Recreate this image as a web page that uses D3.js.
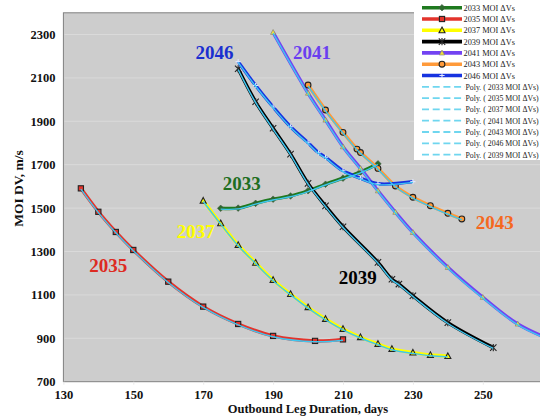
<!DOCTYPE html>
<html><head><meta charset="utf-8">
<script src="https://cdn.jsdelivr.net/npm/d3@7"></script>
<style>html,body{margin:0;padding:0;background:#fff;overflow:hidden}</style>
</head><body><svg id="c" width="540" height="416"></svg>
<script>
// ---- data ----
const days2033 = [175,180,185,190,195,200,205,210,215,220];
const dv2033   = [1499,1500,1522,1541,1556,1580,1610,1638,1666,1704];
const days2035 = [135,140,145,150,160,170,180,190,202,210];
const dv2035   = [1591,1483,1390,1307,1161,1046,966,911,888,895];
const days2037 = [170,175,180,185,190,195,200,205,210,215,220,224,230,235,240];
const dv2037   = [1534,1430,1330,1248,1169,1104,1043,989,943,905,874,851,834,823,818];
const days2039 = [180,185,190,195,200,205,210,220,224,226,230,240,253];
const dv2039   = [2142,1990,1868,1749,1614,1510,1414,1250,1172,1150,1096,972,857];
const days2041 = [190,200,205,210,215,220,225,230,240,250,260,270];
const dv2041   = [2310,2030,1906,1783,1683,1580,1481,1388,1227,1089,966,890];
const days2043 = [200,205,210,214,215,220,225,230,235,240,244];
const dv2043   = [2067,1952,1849,1772,1756,1683,1602,1550,1511,1476,1450];
const days2046 = [180,185,190,195,200,203,205,210,215,220,230];
const dv2046   = [2175,2065,1966,1875,1801,1755,1734,1672,1638,1612,1622];

const years = ["2033","2035","2037","2039","2041","2043","2046"];
const seriesLegend = ["2033 MOI ΔVs","2035 MOI ΔVs","2037 MOI ΔVs","2039 MOI ΔVs","2041 MOI ΔVs","2043 MOI ΔVs","2046 MOI ΔVs"];
const polyLegend = ["Poly. ( 2033 MOI ΔVs)","Poly. ( 2035 MOI ΔVs)","Poly. ( 2037 MOI ΔVs)","Poly. ( 2041 MOI ΔVs)","Poly. ( 2043 MOI ΔVs)","Poly. ( 2046 MOI ΔVs)","Poly. ( 2039 MOI ΔVs)"];
const xTicks = [130,150,170,190,210,230,250];
const yTicks = [700,900,1100,1300,1500,1700,1900,2100,2300];
const xTitle = "Outbound Leg Duration, days";
const yTitle = "MOI DV, m/s";

// ---- styling ----
const seriesDays = [days2033,days2035,days2037,days2039,days2041,days2043,days2046];
const seriesDv = [dv2033,dv2035,dv2037,dv2039,dv2041,dv2043,dv2046];
const lineColors = ["#1f7a1f","#e3342c","#ffff00","#000000","#7343f2","#ff9a3a","#1733e0"];
const labelColors = ["#1f6e1f","#dd2a22","#ffff00","#000000","#6a3ff0","#f5681f","#1a2fd0"];
const markerTypes = ["diamond","square","triangle","x","triSmall","circle","plus"];
const labelAnchor = [[181.0,1585],[142.8,1204],[167.9,1362],[214.2,1150],[201.1,2189],[253.4,1404],[173.2,2189]];
const cyan = "#3fc6ef";

const svg = d3.select("#c");
const x = d3.scaleLinear().domain([130,270]).range([63.4,552.7]);
const y = d3.scaleLinear().domain([700,2400]).range([381.7,12.8]);
const serif = "'Liberation Serif','Times New Roman',serif";

// plot area
svg.append("rect").attr("x",x(130)).attr("y",y(2400)).attr("width",x(270)-x(130)).attr("height",y(700)-y(2400))
  .attr("fill","#cdcdcd").attr("stroke","#808080").attr("stroke-width",1);
// gridlines
svg.append("g").selectAll("line").data(yTicks.slice(1)).join("line")
  .attr("x1",x(130)+1).attr("x2",x(270)).attr("y1",d=>y(d)).attr("y2",d=>y(d))
  .attr("stroke","#dadada").attr("stroke-width",1);

// axes
const xAxis = d3.axisBottom(x).tickValues(xTicks).tickSize(3).tickFormat(d3.format("d"));
const gx = svg.append("g").attr("transform",`translate(0,${y(700)})`).call(xAxis);
gx.attr("font-family",serif);
gx.select(".domain").remove();
gx.selectAll(".tick line").attr("stroke","#e8e8e8");
gx.selectAll("text").attr("font-family",serif).attr("font-weight","bold").attr("font-size","12.5px").attr("fill","#111").attr("dy","0").attr("y",17.3);
const yAxis = d3.axisLeft(y).tickValues(yTicks).tickSize(0).tickFormat(d3.format("d"));
const gy = svg.append("g").attr("transform",`translate(${x(130)},0)`).call(yAxis);
gy.attr("font-family",serif);
gy.select(".domain").remove();
gy.selectAll("text").attr("font-family",serif).attr("font-weight","bold").attr("font-size","12.5px").attr("fill","#111").attr("x",-8);

svg.append("text").attr("x",308).attr("y",413.2).attr("text-anchor","middle")
  .attr("font-family",serif).attr("font-weight","bold").attr("font-size","12.5px").attr("fill","#111").text(xTitle);
svg.append("text").attr("transform","translate(23,188.5) rotate(-90)").attr("text-anchor","middle")
  .attr("font-family",serif).attr("font-weight","bold").attr("font-size","13.5px").attr("fill","#111").text(yTitle);

// clip for plot
svg.append("clipPath").attr("id","pc").append("rect").attr("x",x(130)).attr("y",y(2400)).attr("width",x(270)-x(130)).attr("height",y(700)-y(2400));
const plot = svg.append("g").attr("clip-path","url(#pc)");

function marker(g, type, cx, cy, col) {
  const s = g.append("g").attr("transform",`translate(${cx},${cy})`);
  if (type==="diamond") s.append("path").attr("d","M0,-3.3L3.3,0L0,3.3L-3.3,0Z").attr("fill","#2b6b2b").attr("stroke","#4a5a4a").attr("stroke-width",0.6);
  else if (type==="square") s.append("rect").attr("x",-2.6).attr("y",-2.6).attr("width",5.2).attr("height",5.2).attr("fill",col).attr("stroke","#222").attr("stroke-width",1.1);
  else if (type==="triangle") s.append("path").attr("d","M0,-3.2L3,2.4L-3,2.4Z").attr("fill",col).attr("stroke","#222").attr("stroke-width",1.1);
  else if (type==="x") s.append("path").attr("d","M-3.2,-3.2L3.2,3.2M-3.2,3.2L3.2,-3.2M0,-3.6L0,3.6").attr("stroke","#222").attr("stroke-width",1.1).attr("fill","none");
  else if (type==="triSmall") s.append("path").attr("d","M0,-2.8L2.6,2.1L-2.6,2.1Z").attr("fill","#f2e23a").attr("stroke","#777").attr("stroke-width",0.6);
  else if (type==="circle") s.append("circle").attr("r",2.9).attr("fill",col).attr("stroke","#222").attr("stroke-width",1.1);
  else if (type==="plus") s.append("path").attr("d","M-2.6,0L2.6,0M0,-2.6L0,2.6").attr("stroke","#dfe6ff").attr("stroke-width",1.1);
}

const line = d3.line().x(d=>x(d[0])).y(d=>y(d[1])).curve(d3.curveCatmullRom.alpha(0.5));
const order = [0,1,2,3,4,5,6];
order.forEach(i=>{
  const pts = seriesDays[i].map((d,k)=>[d,seriesDv[i][k]]);
  plot.append("path").attr("d",line(pts)).attr("fill","none").attr("stroke",lineColors[i]).attr("stroke-width",3.4).attr("stroke-linejoin","round");
  pts.forEach(p=>marker(plot, markerTypes[i], x(p[0]), y(p[1]), lineColors[i]));
});
// trendlines (cyan) drawn on top
order.forEach(i=>{
  const pts = seriesDays[i].map((d,k)=>[d,seriesDv[i][k]]);
  plot.append("path").attr("d",line(pts)).attr("transform","translate(0,0.8)").attr("fill","none").attr("stroke",cyan).attr("stroke-width",1.4);
});

// series labels
years.forEach((t,i)=>{
  svg.append("text").attr("x",x(labelAnchor[i][0])).attr("y",y(labelAnchor[i][1])).attr("text-anchor","middle")
    .attr("font-family",serif).attr("font-weight","bold").attr("font-size","19px").attr("fill",labelColors[i]).text(t);
});

// legend
const lg = svg.append("g");
lg.append("rect").attr("x",414).attr("y",0).attr("width",130).attr("height",160).attr("fill","#ffffff");
const rowY = k => 7.7 + k*11.3;
seriesLegend.forEach((t,k)=>{
  const yy = rowY(k);
  lg.append("line").attr("x1",422).attr("x2",462).attr("y1",yy).attr("y2",yy).attr("stroke",lineColors[k]).attr("stroke-width",3.6);
  marker(lg, markerTypes[k], 442, yy, lineColors[k]);
  lg.append("text").attr("x",463.5).attr("y",yy+3).attr("font-family",serif).attr("font-size","8.3px").attr("fill","#222").text(t);
});
polyLegend.forEach((t,j)=>{
  const yy = rowY(j+7);
  lg.append("line").attr("x1",422).attr("x2",465).attr("y1",yy).attr("y2",yy).attr("stroke","#6fd6ef").attr("stroke-width",1.8).attr("stroke-dasharray","7,3.7");
  lg.append("text").attr("x",465.5).attr("y",yy+3).attr("font-family",serif).attr("font-size","7.8px").attr("fill","#222").text(t);
});
</script></body></html>
